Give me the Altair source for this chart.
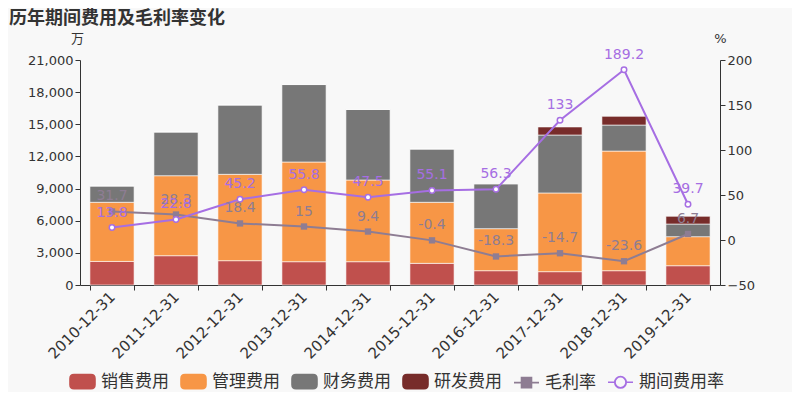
import altair as alt
import pandas as pd

years = ["2010-12-31", "2011-12-31", "2012-12-31", "2013-12-31", "2014-12-31",
         "2015-12-31", "2016-12-31", "2017-12-31", "2018-12-31", "2019-12-31"]
sales = [2200, 2735, 2270, 2175, 2175, 2020, 1335, 1245, 1335, 1800]
admin = [5520, 7465, 8060, 9305, 7625, 5700, 3925, 7345, 11165, 2710]
finance = [1520, 4080, 6470, 7230, 6580, 4970, 4190, 5410, 2430, 1180]
rnd = [0, 0, 0, 0, 0, 0, 0, 750, 810, 720]
gross_margin = [31.7, 28.3, 18.4, 15, 9.4, -0.4, -18.3, -14.7, -23.6, 6.7]
expense_rate = [13.8, 22.8, 45.2, 55.8, 47.5, 55.1, 56.3, 133, 189.2, 39.7]

bar_names = ["销售费用", "管理费用", "财务费用", "研发费用"]
line_names = ["毛利率", "期间费用率"]
all_names = bar_names + line_names
colors = ["#c0504d", "#f79646", "#777777", "#772c2a", "#8e7d93", "#a66ee3"]

bar_rows = []
for i, y in enumerate(years):
    for k, (name, vals) in enumerate(zip(bar_names, [sales, admin, finance, rnd])):
        bar_rows.append({"year": y, "series": name, "value": vals[i], "ord": k})
bars_df = pd.DataFrame(bar_rows)

line_rows = []
for i, y in enumerate(years):
    line_rows.append({"year": y, "series": "毛利率", "rate": gross_margin[i]})
    line_rows.append({"year": y, "series": "期间费用率", "rate": expense_rate[i]})
lines_df = pd.DataFrame(line_rows)

FONT = "DejaVu Sans"
CJK = "Noto Sans CJK SC"

sq_path = ("M-0.68,-0.56H0.68Q1,-0.56 1,-0.24V0.24Q1,0.56 0.68,0.56H-0.68"
           "Q-1,0.56 -1,0.24V-0.24Q-1,-0.56 -0.68,-0.56Z")
line_sq = "M-1,0H-0.4M0.4,0H1M-0.4,-0.4H0.4V0.4H-0.4Z"
line_circ = ("M-1,0H-0.46M0.46,0H1"
             "M-0.46,0A0.46,0.46 0 1,0 0.46,0A0.46,0.46 0 1,0 -0.46,0Z"
             "M-0.44,0A0.44,0.44 0 1,1 0.44,0A0.44,0.44 0 1,1 -0.44,0Z")

legend_encoding = {"symbols": {
    "shape": {"value": {"expr": f"datum.value === '毛利率' ? '{line_sq}' : datum.value === '期间费用率' ? '{line_circ}' : '{sq_path}'"}},
    "fill": {"value": {"expr": "scale('color', datum.value)"}},
    "stroke": {"value": {"expr": "datum.value === '毛利率' || datum.value === '期间费用率' ? scale('color', datum.value) : 'transparent'"}},
    "strokeWidth": {"value": 1.6},
    "opacity": {"value": 1},
    "fillOpacity": {"value": 1},
}}

legend = alt.Legend(
    orient="none", legendX=-11, legendY=308, direction="horizontal", title=None,
    symbolSize=625, labelFontSize=17, labelFont=CJK, labelColor="#333333",
    columnPadding=8, labelOffset=5, labelLimit=200,
)

color = alt.Color("series:N", scale=alt.Scale(domain=all_names, range=colors), legend=legend)
color_nolegend = alt.Color("series:N", scale=alt.Scale(domain=all_names, range=colors), legend=None)

x = alt.X("year:N", sort=years, title=None,
          scale=alt.Scale(paddingInner=0.31, paddingOuter=0.155),
          axis=alt.Axis(labelAngle=-45, labelAlign="right", labelBaseline="middle",
                        labelFontSize=15, labelFont=FONT, labelColor="#333333",
                        domainColor="#333333", tickColor="#333333", tickSize=5,
                        tickBand="extent", labelPadding=4))

bars = alt.Chart(bars_df).mark_bar(stroke="#ffffff", strokeOpacity=0.6, strokeWidth=1).encode(
    x=x,
    y=alt.Y("sum(value):Q", stack="zero", title="万",
            scale=alt.Scale(domain=[0, 21000], nice=False),
            axis=alt.Axis(values=list(range(0, 21001, 3000)), format=",d", grid=False,
                          labelFontSize=13, labelFont=FONT, labelColor="#333333",
                          domainColor="#333333", tickColor="#333333", tickSize=5,
                          titleAngle=0, titleX=-3, titleY=-22, titleAlign="center",
                          titleBaseline="middle", titleFont=CJK, titleFontSize=13,
                          titleFontWeight="normal", titleColor="#333333")),
    color=color,
    order=alt.Order("ord:Q", sort="ascending"),
)

ry = alt.Y("rate:Q", title="%", scale=alt.Scale(domain=[-50, 200], nice=False),
           axis=alt.Axis(orient="right", values=[-50, 0, 50, 100, 150, 200], grid=False,
                         labelFontSize=13, labelFont=FONT, labelColor="#333333",
                         domainColor="#333333", tickColor="#333333", tickSize=5,
                         titleAngle=0, titleX=0, titleY=-22, titleAlign="center",
                         titleBaseline="middle", titleFont=FONT, titleFontSize=13,
                         titleFontWeight="normal", titleColor="#333333"))

base = alt.Chart(lines_df).encode(x=x, y=ry, color=color_nolegend)
lines = base.mark_line(strokeWidth=2)
gm = base.transform_filter(alt.datum.series == "毛利率")
er = base.transform_filter(alt.datum.series == "期间费用率")
gm_pts = gm.mark_point(shape="square", filled=True, size=40, opacity=1)
er_pts = er.mark_point(shape="circle", filled=False, fill="#ffffff", size=30,
                       strokeWidth=1.5, opacity=1)
labels = base.transform_calculate(lbl="'' + datum.rate").mark_text(
    dy=-15, fontSize=14, font=FONT).encode(text=alt.Text("lbl:N"))

right = alt.layer(lines, gm_pts, er_pts, labels)

chart = alt.layer(bars, right).resolve_scale(y="independent").properties(
    width=640, height=225,
    autosize="none",
    padding={"left": 72, "top": 52, "right": 72, "bottom": 107},
    background="#f8f8f8",
    title=alt.TitleParams("历年期间费用及毛利率变化", anchor="start", frame="group",
                          dx=-71, offset=4, fontSize=18, font=CJK, fontWeight="bold",
                          color="#333333"),
).configure_view(stroke=None)


def _inject(obj):
    if isinstance(obj, dict):
        for k, v in obj.items():
            if k == "legend" and isinstance(v, dict) and "legendX" in v:
                v["encoding"] = legend_encoding
            else:
                _inject(v)
    elif isinstance(obj, list):
        for v in obj:
            _inject(v)


_orig_to_dict = chart.to_dict


def _to_dict(*args, **kwargs):
    if not args:
        kwargs["validate"] = False
    d = _orig_to_dict(*args, **kwargs)
    _inject(d)
    return d


object.__setattr__(chart, "to_dict", _to_dict)

chart.save("out.html", embed_options={"renderer": "svg", "actions": False})
